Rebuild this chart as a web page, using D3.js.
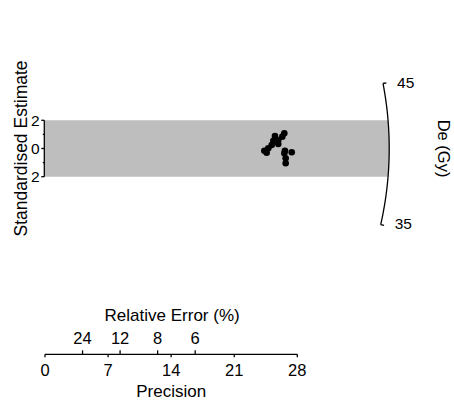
<!DOCTYPE html>
<html><head><meta charset="utf-8">
<script src="https://cdn.jsdelivr.net/npm/d3@7"></script>
<style>
html,body{margin:0;padding:0;background:#fff;}
text{font-family:"Liberation Sans",Arial,sans-serif;fill:#000;}
</style></head>
<body>
<svg id="chart" width="454" height="402"></svg>
<script>
// ---- data ----
const precision  = [26.56, 26.34, 25.52, 25.89, 25.34, 25.89, 25.16, 24.78, 24.34, 24.60, 26.63, 27.38, 26.56, 26.71, 26.71];
const stdEstimate = [1.08, 0.84, 0.89, 0.60, 0.55, 0.32, 0.25, 0.01, -0.16, -0.30, -0.16, -0.27, -0.34, -0.70, -1.05];
const precisionTicks = [0, 7, 14, 21, 28];
const relErrorTicks = [24, 12, 8, 6];          // percent
const yTicks = [-2, -1, 0, 1, 2];
const yLabelled = [-2, 0, 2];
const yTickLabels = ["2", "0", "2"];
const deTicks = [35, 45];                       // De (Gy) axis
const centralDe = 40.1;
const arcRadius = 38.2;                         // in precision units
const zStretch = 1.066;

// ---- layout ----
const svg = d3.select("#chart");
const x = d3.scaleLinear().domain([0, 28]).range([45, 297.3]);
const y = d3.scaleLinear().domain([-2, 2]).range([176.7, 120.3]);
const f = (y(0) - y(1)) / (x(1) - x(0));    // pixel aspect

function arcPoint(de, extra) {
  const s = zStretch * Math.log(de / centralDe);
  const r = arcRadius * (1 + (extra || 0));
  const xd = r / Math.sqrt(1 + f * f * s * s);
  return [x(xd), y(s * xd)];
}

// grey ±2 band, bounded on the right by the arc
const band = [];
band.push([x(0), y(2)]);
const nb = 40;
for (let i = 0; i <= nb; i++) {
  const yy = 2 - 4 * i / nb;
  const xx = Math.sqrt(arcRadius * arcRadius - f * f * yy * yy);
  band.push([x(xx), y(yy)]);
}
band.push([x(0), y(-2)]);
svg.append("path").attr("d", d3.line()(band) + "Z")
  .attr("fill", "#bebebe").attr("stroke", "none");

// De arc
const arcPts = d3.range(0, 101).map(i => arcPoint(deTicks[0] + (deTicks[1] - deTicks[0]) * i / 100));
svg.append("path").attr("d", d3.line()(arcPts))
  .attr("fill", "none").attr("stroke", "#000").attr("stroke-width", 1.3);
deTicks.forEach(d => {
  const p0 = arcPoint(d), p1 = arcPoint(d, 0.01);
  svg.append("line").attr("x1", p0[0]).attr("y1", p0[1]).attr("x2", p1[0]).attr("y2", p1[1])
    .attr("stroke", "#000").attr("stroke-width", 1.3);
  svg.append("text").attr("x", p0[0] + 14).attr("y", p0[1] - 1).attr("dy", "0.36em")
    .attr("font-size", 15.5).text(d);
});
svg.append("text").attr("transform", `translate(438,${y(0)}) rotate(90)`)
  .attr("text-anchor", "middle").attr("font-size", 16.5).text("De (Gy)");

// y axis (standardised estimate)
svg.append("line").attr("x1", x(0) - 0.7).attr("x2", x(0) - 0.7).attr("y1", y(2)).attr("y2", y(-2))
  .attr("stroke", "#000").attr("stroke-width", 1.3);
yTicks.forEach(t => {
  const len = yLabelled.includes(t) ? 3 : 1.5;
  svg.append("line").attr("x1", x(0) - 0.7 - len).attr("x2", x(0) - 0.7).attr("y1", y(t)).attr("y2", y(t))
    .attr("stroke", "#000").attr("stroke-width", 1.3);
});
yLabelled.forEach((t, i) => {
  svg.append("text").attr("x", 39.5).attr("y", y(t)).attr("dy", "0.36em")
    .attr("text-anchor", "end").attr("font-size", 15.5).text(yTickLabels[i]);
});
svg.append("text").attr("transform", `translate(26.5,${y(0)}) rotate(-90)`)
  .attr("text-anchor", "middle").attr("font-size", 17.5).text("Standardised Estimate");

// points
svg.append("g").selectAll("circle").data(precision).join("circle")
  .attr("cx", (d, i) => x(d)).attr("cy", (d, i) => y(stdEstimate[i]))
  .attr("r", 3.3).attr("fill", "#000");

// x axis (precision) with relative-error ticks on top
const axisY = 354.3;
svg.append("line").attr("x1", x(0)).attr("x2", x(28)).attr("y1", axisY).attr("y2", axisY)
  .attr("stroke", "#000").attr("stroke-width", 1.3);
precisionTicks.forEach(t => {
  svg.append("line").attr("x1", x(t)).attr("x2", x(t)).attr("y1", axisY).attr("y2", axisY + 3)
    .attr("stroke", "#000").attr("stroke-width", 1.3);
  svg.append("text").attr("x", x(t)).attr("y", 376).attr("text-anchor", "middle")
    .attr("font-size", 16.5).text(t);
});
relErrorTicks.forEach(t => {
  const px = x(100 / t);
  svg.append("line").attr("x1", px).attr("x2", px).attr("y1", axisY).attr("y2", axisY - 4)
    .attr("stroke", "#000").attr("stroke-width", 1.3);
  svg.append("text").attr("x", px).attr("y", 344.3).attr("text-anchor", "middle")
    .attr("font-size", 16.5).text(t);
});
svg.append("text").attr("x", x(14)).attr("y", 396.7).attr("text-anchor", "middle")
  .attr("font-size", 17).text("Precision");
svg.append("text").attr("x", x(14) + 1).attr("y", 321).attr("text-anchor", "middle")
  .attr("font-size", 17).text("Relative Error (%)");
</script>
</body></html>
